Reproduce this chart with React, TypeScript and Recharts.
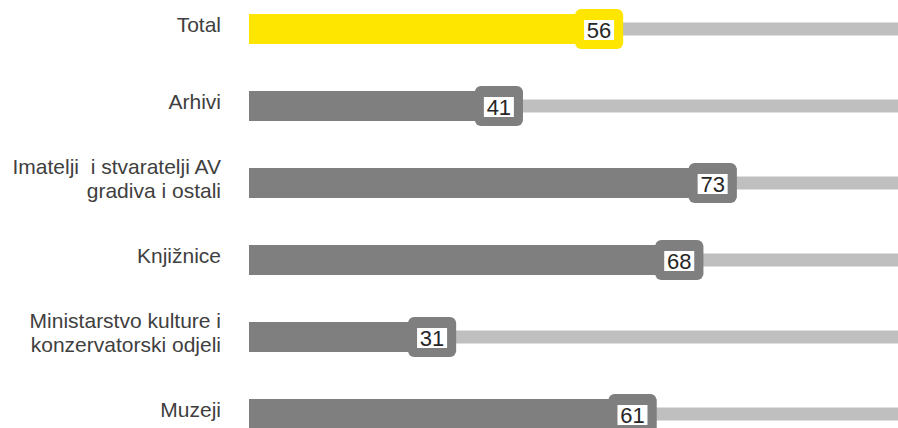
import React from "react";
import { BarChart, Bar, XAxis, YAxis, Cell, LabelList } from "recharts";

const categories = [
  "Total",
  "Arhivi",
  "Imatelji  i stvaratelji AV\ngradiva i ostali",
  "Knjižnice",
  "Ministarstvo kulture i\nkonzervatorski odjeli",
  "Muzeji",
];
const values = [56, 41, 73, 68, 31, 61];
const colors = ["#FFE600", "#7F7F7F", "#7F7F7F", "#7F7F7F", "#7F7F7F", "#7F7F7F"];

const data = categories.map((name, i) => ({ name, value: values[i] }));

const FONT = "'Liberation Sans', Arial, sans-serif";

const Tick = (props: any) => {
  const { x, y, payload } = props;
  const lines = String(payload.value).split("\n");
  const lh = 24;
  const start = y - ((lines.length - 1) * lh) / 2 - 5;
  return (
    <text
      x={x - 20}
      y={start}
      textAnchor="end"
      fontFamily={FONT}
      fontSize={21}
      fill="#404040"
      dominantBaseline="central"
    >
      {lines.map((l, i) => (
        <tspan key={i} x={x - 20} y={start + i * lh} style={{ whiteSpace: "pre" }}>
          {l}
        </tspan>
      ))}
    </text>
  );
};

const Bg = (props: any) => {
  const { x, y, width, height } = props;
  const h = 13;
  return <rect x={x} y={y + (height - h) / 2} width={width} height={h} fill="#BFBFBF" />;
};

const ValueLabel = (props: any) => {
  const { x, y, width, height, value, index } = props;
  const end = x + width;
  const cy = y + height / 2;
  const bw = 48;
  const bh = 40;
  const col = colors[index];
  return (
    <g>
      <rect x={end - bw} y={cy - bh / 2} width={bw} height={bh} rx={6} ry={6} fill={col} />
      <rect x={end - bw / 2 - 15} y={cy - 9} width={30} height={20} fill="#FFFFFF" />
      <text
        x={end - bw / 2}
        y={cy + 1}
        textAnchor="middle"
        dominantBaseline="central"
        fontFamily={FONT}
        fontSize={22}
        fill="#262626"
      >
        {value}
      </text>
    </g>
  );
};

export default function App() {
  return (
    <div
      style={{
        position: "absolute",
        left: 0,
        top: 0,
        width: 898,
        height: 428,
        overflow: "hidden",
        background: "#fff",
      }}
    >
      <div style={{ position: "absolute", left: 0, top: -10 }}>
        <BarChart
          width={917}
          height={462}
          data={data}
          layout="vertical"
          margin={{ top: 0, right: 0, bottom: 0, left: 0 }}
          barSize={30}
        >
          <XAxis type="number" domain={[0, 100]} hide />
          <YAxis
            type="category"
            dataKey="name"
            width={249}
            axisLine={false}
            tickLine={false}
            tick={<Tick />}
            interval={0}
          />
          <Bar dataKey="value" isAnimationActive={false} background={<Bg />}>
            {data.map((d, i) => (
              <Cell key={i} fill={colors[i]} />
            ))}
            <LabelList dataKey="value" content={<ValueLabel />} />
          </Bar>
        </BarChart>
      </div>
    </div>
  );
}
